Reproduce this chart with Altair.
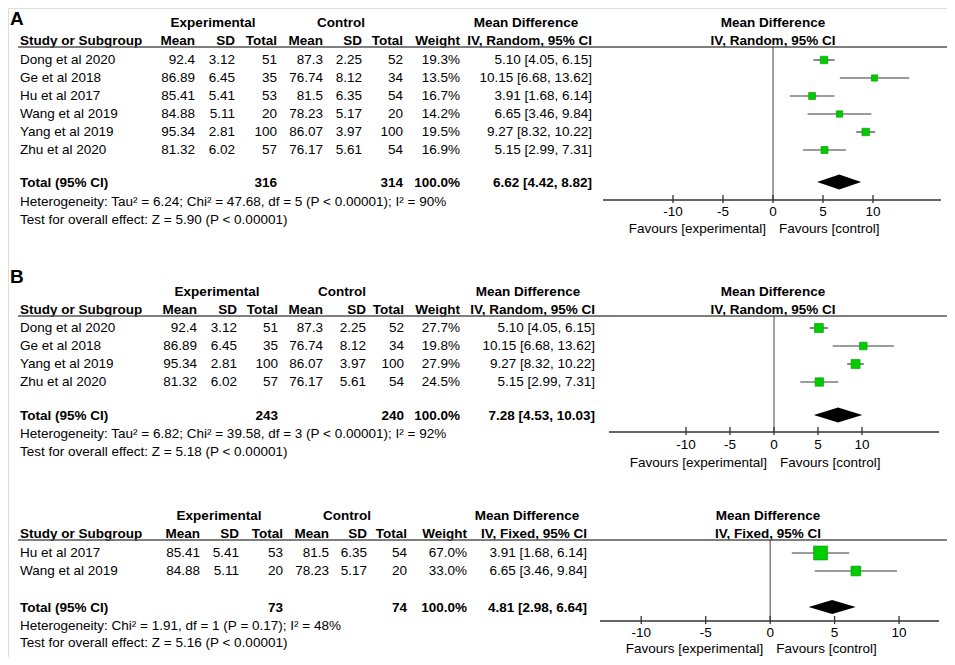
import altair as alt
import pandas as pd

# ---------------- data ----------------
# Panel A
studies_A = ["Dong et al 2020", "Ge et al 2018", "Hu et al 2017", "Wang et al 2019", "Yang et al 2019", "Zhu et al 2020"]
exp_mean_A = [92.4, 86.89, 85.41, 84.88, 95.34, 81.32]
exp_sd_A = [3.12, 6.45, 5.41, 5.11, 2.81, 6.02]
exp_n_A = [51, 35, 53, 20, 100, 57]
ctl_mean_A = [87.3, 76.74, 81.5, 78.23, 86.07, 76.17]
ctl_sd_A = [2.25, 8.12, 6.35, 5.17, 3.97, 5.61]
ctl_n_A = [52, 34, 54, 20, 100, 54]
weight_A = [19.3, 13.5, 16.7, 14.2, 19.5, 16.9]
md_A = [5.10, 10.15, 3.91, 6.65, 9.27, 5.15]
lo_A = [4.05, 6.68, 1.68, 3.46, 8.32, 2.99]
hi_A = [6.15, 13.62, 6.14, 9.84, 10.22, 7.31]
total_A = [316, 314, 100.0, 6.62, 4.42, 8.82]
het_A = "Heterogeneity: Tau² = 6.24; Chi² = 47.68, df = 5 (P < 0.00001); I² = 90%"
test_A = "Test for overall effect: Z = 5.90 (P < 0.00001)"

# Panel B
studies_B = ["Dong et al 2020", "Ge et al 2018", "Yang et al 2019", "Zhu et al 2020"]
exp_mean_B = [92.4, 86.89, 95.34, 81.32]
exp_sd_B = [3.12, 6.45, 2.81, 6.02]
exp_n_B = [51, 35, 100, 57]
ctl_mean_B = [87.3, 76.74, 86.07, 76.17]
ctl_sd_B = [2.25, 8.12, 3.97, 5.61]
ctl_n_B = [52, 34, 100, 54]
weight_B = [27.7, 19.8, 27.9, 24.5]
md_B = [5.10, 10.15, 9.27, 5.15]
lo_B = [4.05, 6.68, 8.32, 2.99]
hi_B = [6.15, 13.62, 10.22, 7.31]
total_B = [243, 240, 100.0, 7.28, 4.53, 10.03]
het_B = "Heterogeneity: Tau² = 6.82; Chi² = 39.58, df = 3 (P < 0.00001); I² = 92%"
test_B = "Test for overall effect: Z = 5.18 (P < 0.00001)"

# Panel C
studies_C = ["Hu et al 2017", "Wang et al 2019"]
exp_mean_C = [85.41, 84.88]
exp_sd_C = [5.41, 5.11]
exp_n_C = [53, 20]
ctl_mean_C = [81.5, 78.23]
ctl_sd_C = [6.35, 5.17]
ctl_n_C = [54, 20]
weight_C = [67.0, 33.0]
md_C = [3.91, 6.65]
lo_C = [1.68, 3.46]
hi_C = [6.14, 9.84]
total_C = [73, 74, 100.0, 4.81, 2.98, 6.64]
het_C = "Heterogeneity: Chi² = 1.91, df = 1 (P = 0.17); I² = 48%"
test_C = "Test for overall effect: Z = 5.16 (P < 0.00001)"

tick_values = [-10, -5, 0, 5, 10]
fav_left = "Favours [experimental]"
fav_right = "Favours [control]"

# ---------------- layout ----------------
W, H = 939, 649
FONT = "Liberation Sans"
FS = 13.5
XS = alt.Scale(domain=[8, 8 + W], range=[0, W], zero=False, nice=False)
YS = alt.Scale(domain=[8, 8 + H], range=[0, H], zero=False, nice=False)

panels = [
    dict(letter="A", letter_y=25, method="IV, Random, 95% CI",
         studies=studies_A, em=exp_mean_A, es=exp_sd_A, en=exp_n_A, cm=ctl_mean_A, cs=ctl_sd_A, cn=ctl_n_A,
         w=weight_A, md=md_A, lo=lo_A, hi=hi_A, tot=total_A, het=het_A, test=test_A,
         grp_y=23, head_y=41, line_y=47, row0=60, step=18, total_y=183, het_y=202, test_y=220,
         axis_y=200, tick_y=212, fav_y=229, dh=7.5,
         cols=dict(study=20, m1=195, s1=235, n1=277, m2=323, s2=362, n2=403, w=460, ci=592,
                   exp=213, ctl=341, mdh=526, fc=773),
         fdom=[-17, 16.8], frange=[603, 941]),
    dict(letter="B", letter_y=283, method="IV, Random, 95% CI",
         studies=studies_B, em=exp_mean_B, es=exp_sd_B, en=exp_n_B, cm=ctl_mean_B, cs=ctl_sd_B, cn=ctl_n_B,
         w=weight_B, md=md_B, lo=lo_B, hi=hi_B, tot=total_B, het=het_B, test=test_B,
         grp_y=292, head_y=310, line_y=316, row0=328, step=18, total_y=416, het_y=434, test_y=452,
         axis_y=432, tick_y=445, fav_y=463, dh=7.5,
         cols=dict(study=20, m1=197, s1=237, n1=278, m2=323, s2=366, n2=404, w=460, ci=595,
                   exp=217, ctl=342, mdh=528, fc=773),
         fdom=[-18.75, 18.75], frange=[609, 939]),
    dict(letter=None, letter_y=0, method="IV, Fixed, 95% CI",
         studies=studies_C, em=exp_mean_C, es=exp_sd_C, en=exp_n_C, cm=ctl_mean_C, cs=ctl_sd_C, cn=ctl_n_C,
         w=weight_C, md=md_C, lo=lo_C, hi=hi_C, tot=total_C, het=het_C, test=test_C,
         grp_y=516, head_y=534, line_y=540, row0=553, step=18, total_y=608, het_y=626, test_y=643,
         axis_y=621, tick_y=633, fav_y=649, dh=7,
         cols=dict(study=20, m1=200, s1=239, n1=283, m2=329, s2=367, n2=407, w=467, ci=587,
                   exp=219, ctl=347, mdh=527, fc=768),
         fdom=[-13.2, 13.1], frange=[600, 939]),
]


def text_layer(rows, weight="normal", align="left", size=FS, baseline="middle"):
    df = pd.DataFrame(rows, columns=["x", "y", "t"])
    return alt.Chart(df).mark_text(align=align, baseline=baseline, font=FONT, fontSize=size,
                                   fontWeight=weight, color="#000000").encode(
        x=alt.X("x:Q", scale=XS, axis=None),
        y=alt.Y("y:Q", scale=YS, axis=None),
        text="t:N")


layers = []
for p in panels:
    c = p["cols"]
    fs = alt.Scale(domain=p["fdom"], range=[p["frange"][0] - 8, p["frange"][1] - 8], zero=False, nice=False)
    # letter
    if p["letter"]:
        layers.append(text_layer([(10, p["letter_y"], p["letter"])], weight="bold", size=19, baseline="alphabetic"))
    # group headers (centered, bold)
    layers.append(text_layer([(c["exp"], p["grp_y"], "Experimental"), (c["ctl"], p["grp_y"], "Control"),
                              (c["mdh"], p["grp_y"], "Mean Difference"), (c["fc"], p["grp_y"], "Mean Difference"),
                              (c["fc"], p["head_y"], p["method"])], weight="bold", align="center"))
    layers.append(text_layer([(c["study"], p["head_y"], "Study or Subgroup")], weight="bold"))
    layers.append(text_layer([(c["m1"], p["head_y"], "Mean"), (c["s1"], p["head_y"], "SD"), (c["n1"], p["head_y"], "Total"),
                              (c["m2"], p["head_y"], "Mean"), (c["s2"], p["head_y"], "SD"), (c["n2"], p["head_y"], "Total"),
                              (c["w"], p["head_y"], "Weight"), (c["ci"], p["head_y"], p["method"])],
                             weight="bold", align="right"))
    # underline
    ul = pd.DataFrame({"x": [18], "x2": [8 + W], "y": [p["line_y"]]})
    layers.append(alt.Chart(ul).mark_rule(color="#555555", strokeWidth=1.6).encode(
        x=alt.X("x:Q", scale=XS, axis=None), x2="x2:Q", y=alt.Y("y:Q", scale=YS, axis=None)))
    # study rows
    ys = [p["row0"] + i * p["step"] for i in range(len(p["studies"]))]
    left_rows, right_rows = [], []
    for i, s in enumerate(p["studies"]):
        y = ys[i]
        left_rows.append((c["study"], y, s))
        right_rows += [(c["m1"], y, str(p["em"][i])), (c["s1"], y, f"{p['es'][i]:.2f}"), (c["n1"], y, str(p["en"][i])),
                       (c["m2"], y, str(p["cm"][i])), (c["s2"], y, f"{p['cs'][i]:.2f}"), (c["n2"], y, str(p["cn"][i])),
                       (c["w"], y, f"{p['w'][i]:.1f}%"),
                       (c["ci"], y, f"{p['md'][i]:.2f} [{p['lo'][i]:.2f}, {p['hi'][i]:.2f}]")]
    left_rows += [(c["study"], p["het_y"], p["het"]), (c["study"], p["test_y"], p["test"])]
    layers.append(text_layer(left_rows))
    layers.append(text_layer(right_rows, align="right"))
    # total row
    t = p["tot"]
    layers.append(text_layer([(c["study"], p["total_y"], "Total (95% CI)")], weight="bold"))
    layers.append(text_layer([(c["n1"], p["total_y"], str(t[0])), (c["n2"], p["total_y"], str(t[1])),
                              (c["w"], p["total_y"], f"{t[2]:.1f}%"),
                              (c["ci"], p["total_y"], f"{t[3]:.2f} [{t[4]:.2f}, {t[5]:.2f}]")],
                             weight="bold", align="right"))

    # ---- forest plot ----
    fx = lambda f: alt.X(f, scale=fs, axis=None)
    fy = lambda f: alt.Y(f, scale=YS, axis=None)
    zl = pd.DataFrame({"x": [0], "y": [p["line_y"]], "y2": [p["axis_y"]]})
    layers.append(alt.Chart(zl).mark_rule(color="#444444", strokeWidth=1).encode(
        x=fx("x:Q"), y=fy("y:Q"), y2="y2:Q"))
    st = pd.DataFrame({"md": p["md"], "lo": p["lo"], "hi": p["hi"], "w": p["w"], "y": ys})
    layers.append(alt.Chart(st).mark_rule(color="#3a3a3a", strokeWidth=1.2).encode(
        x=fx("lo:Q"), x2="hi:Q", y=fy("y:Q")))
    layers.append(alt.Chart(st).mark_square(color="#00CC00", opacity=1, stroke="#009900", strokeWidth=0.6).encode(
        x=fx("md:Q"), y=fy("y:Q"),
        size=alt.Size("w:Q", scale=alt.Scale(domain=[0, 100], range=[0, 290]), legend=None)))
    # diamond
    dm = pd.DataFrame({"x": [t[4], t[3], t[5]],
                       "y": [p["total_y"] - 1, p["total_y"] - 1 - p["dh"], p["total_y"] - 1],
                       "y2": [p["total_y"] - 1, p["total_y"] - 1 + p["dh"], p["total_y"] - 1]})
    layers.append(alt.Chart(dm).mark_area(color="#000000", orient="vertical", opacity=1).encode(
        x=fx("x:Q"), y=fy("y:Q"), y2="y2:Q"))
    # axis
    ax = pd.DataFrame({"x": [p["fdom"][0]], "x2": [p["fdom"][1]], "y": [p["axis_y"]]})
    layers.append(alt.Chart(ax).mark_rule(color="#333333", strokeWidth=1.3).encode(
        x=fx("x:Q"), x2="x2:Q", y=fy("y:Q")))
    tk = pd.DataFrame({"x": tick_values, "y": [p["axis_y"] - 5] * 5, "y2": [p["axis_y"] + 3] * 5,
                       "ty": [p["tick_y"]] * 5, "t": [str(v) for v in tick_values]})
    layers.append(alt.Chart(tk).mark_rule(color="#333333", strokeWidth=1.3).encode(
        x=fx("x:Q"), y=fy("y:Q"), y2="y2:Q"))
    layers.append(alt.Chart(tk).mark_text(align="center", baseline="middle", font=FONT, fontSize=FS, color="#000000").encode(
        x=fx("x:Q"), y=fy("ty:Q"), text="t:N"))
    fv = pd.DataFrame({"x": [0, 0], "y": [p["fav_y"]] * 2, "t": [fav_left, fav_right], "side": ["l", "r"]})
    layers.append(alt.Chart(fv[fv.side == "l"]).mark_text(align="right", baseline="middle", dx=-7, font=FONT,
                                                          fontSize=FS, color="#000000").encode(
        x=fx("x:Q"), y=fy("y:Q"), text="t:N"))
    layers.append(alt.Chart(fv[fv.side == "r"]).mark_text(align="left", baseline="middle", dx=6, font=FONT,
                                                          fontSize=FS, color="#000000").encode(
        x=fx("x:Q"), y=fy("y:Q"), text="t:N"))

chart = alt.layer(*layers).resolve_scale(x="independent", size="independent").properties(
    width=W, height=H, padding=0, autosize=alt.AutoSizeParams(type="none")
).configure_view(stroke=None).configure(background="white")

chart.save("out.html", embed_options={"renderer": "svg", "actions": False})
